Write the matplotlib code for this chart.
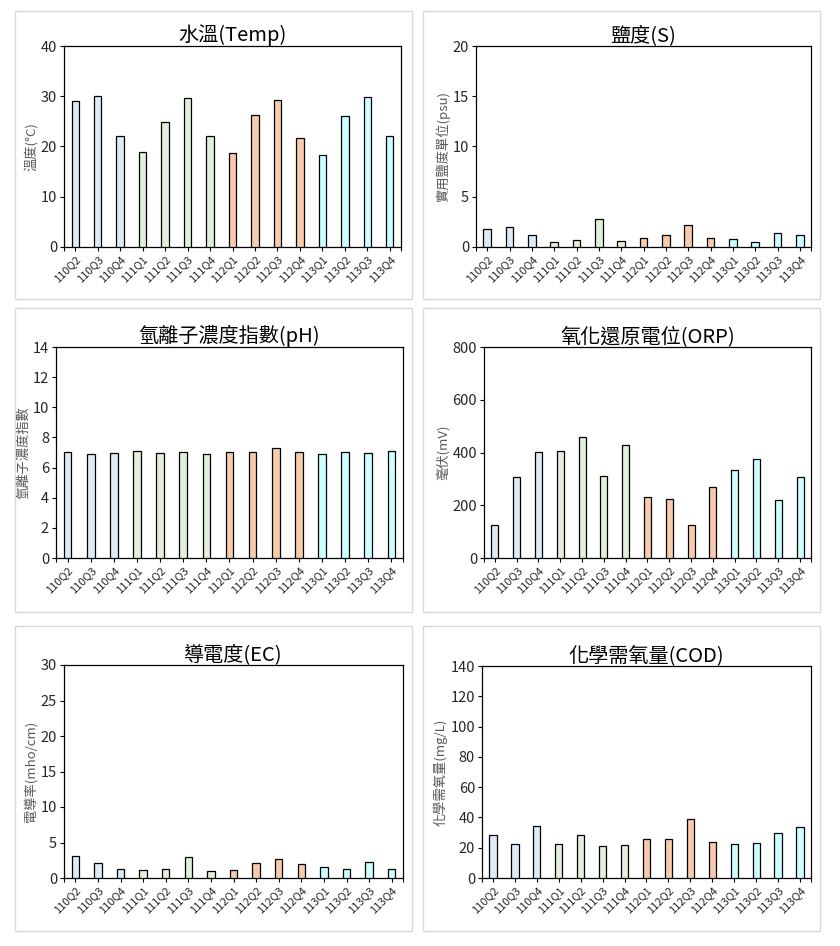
import matplotlib
matplotlib.use("Agg")
import matplotlib.pyplot as plt
from matplotlib.patches import Rectangle

plt.rcParams['font.family'] = ['Noto Sans CJK TC', 'DejaVu Sans']

quarters = ["110Q2", "110Q3", "110Q4", "111Q1", "111Q2", "111Q3", "111Q4",
            "112Q1", "112Q2", "112Q3", "112Q4", "113Q1", "113Q2", "113Q3", "113Q4"]
years = [q[:3] for q in quarters]
year_colors = {"110": "#DDEBF7", "111": "#E2EFDA", "112": "#F8CBAD", "113": "#CCFFFF"}

temp = [29.0, 30.1, 22.0, 19.0, 24.9, 29.7, 22.0, 18.8, 26.3, 29.3, 21.6, 18.4, 26.1, 29.9, 22.0]
salinity = [1.8, 2.0, 1.2, 0.5, 0.7, 2.8, 0.6, 0.9, 1.2, 2.2, 0.9, 0.8, 0.5, 1.4, 1.2]
ph = [7.02, 6.89, 6.95, 7.09, 6.95, 7.02, 6.89, 7.02, 7.02, 7.28, 7.02, 6.89, 7.02, 6.95, 7.09]
orp = [125, 307, 402, 406, 459, 311, 429, 231, 224, 125, 269, 334, 375, 220, 307]
ec = [3.16, 2.17, 1.32, 1.18, 1.32, 3.01, 1.04, 1.18, 2.17, 2.73, 2.03, 1.60, 1.32, 2.31, 1.32]
cod = [28.6, 22.7, 34.6, 22.7, 28.6, 21.4, 22.0, 26.0, 26.0, 39.2, 24.0, 22.7, 23.3, 29.9, 33.9]

W, H = 840, 946
fig = plt.figure(figsize=(W / 100, H / 100), dpi=100)

panels = [
    dict(title="水溫(Temp)", ylabel="溫度(°C)", data=temp, ymax=40, step=10,
         frame=(15, 11, 412, 299), ax=(64, 46, 401, 247)),
    dict(title="鹽度(S)", ylabel="實用鹽度單位(psu)", data=salinity, ymax=20, step=5,
         frame=(423, 11, 820, 299), ax=(476, 46, 811, 247)),
    dict(title="氫離子濃度指數(pH)", ylabel="氫離子濃度指數", data=ph, ymax=14, step=2,
         frame=(15, 308, 412, 612), ax=(56, 347, 403, 558)),
    dict(title="氧化還原電位(ORP)", ylabel="毫伏(mV)", data=orp, ymax=800, step=200,
         frame=(423, 308, 820, 612), ax=(484, 347, 811, 558)),
    dict(title="導電度(EC)", ylabel="電導率(mho/cm)", data=ec, ymax=30, step=5,
         frame=(15, 626, 412, 931), ax=(64, 665, 403, 878)),
    dict(title="化學需氧量(COD)", ylabel="化學需氧量(mg/L)", data=cod, ymax=140, step=20,
         frame=(423, 626, 820, 931), ax=(482, 666, 811, 878)),
]

for p in panels:
    fx0, fy0, fx1, fy1 = p["frame"]
    fig.patches.append(Rectangle((fx0 / W, 1 - fy1 / H), (fx1 - fx0) / W, (fy1 - fy0) / H,
                                 transform=fig.transFigure, facecolor="none",
                                 edgecolor="#D9D9D9", linewidth=1.0, zorder=-5))
    x0, y0, x1, y1 = p["ax"]
    ax = fig.add_axes([x0 / W, 1 - y1 / H, (x1 - x0) / W, (y1 - y0) / H])
    xs = list(range(len(quarters)))
    ax.bar(xs, p["data"], width=0.33, color=[year_colors[y] for y in years],
           edgecolor="black", linewidth=0.9, zorder=3)
    ax.set_xlim(-0.5, len(quarters) - 0.5)
    ax.set_ylim(0, p["ymax"])
    ax.set_yticks(list(range(0, p["ymax"] + 1, p["step"])))
    ax.set_xticks(xs)
    ax.set_xticklabels(quarters, rotation=45, ha="right", rotation_mode="anchor",
                       fontsize=8, color="#262626")
    ax.set_xticks([-0.5, len(quarters) - 0.5], minor=True)
    ax.tick_params(axis="x", which="both", length=3, width=0.8, direction="out", pad=2)
    ax.tick_params(axis="y", length=3, width=0.8, direction="out", labelsize=10.5,
                   pad=2, labelcolor="#262626")
    for s in ax.spines.values():
        s.set_linewidth(0.9)
    ax.set_title(p["title"], fontsize=14.5, pad=0)
    ax.set_ylabel(p["ylabel"], fontsize=9.5, color="#595959", labelpad=2)

fig.savefig("out.png", dpi=100)
